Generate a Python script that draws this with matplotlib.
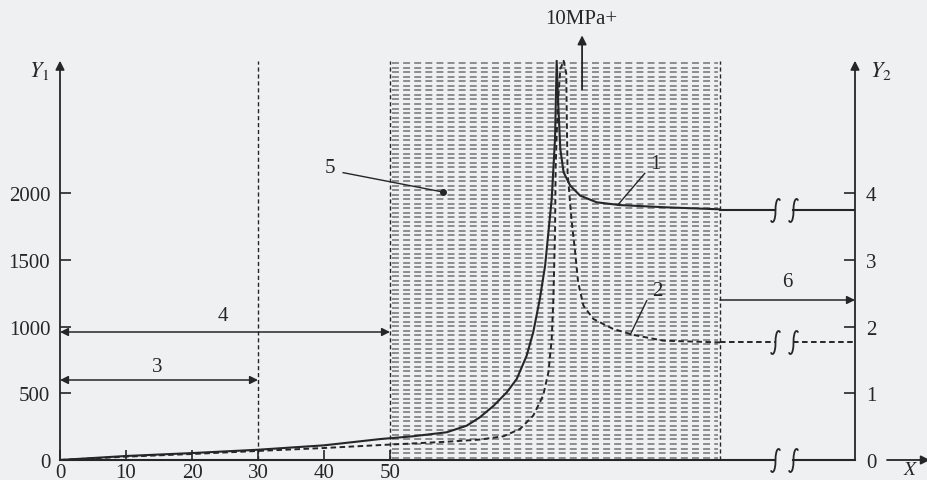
import matplotlib
matplotlib.use('Agg')
import matplotlib.pyplot as plt
import numpy as np
from matplotlib.path import Path
from matplotlib.markers import MarkerStyle

plt.rcParams['font.family'] = ['Liberation Serif', 'DejaVu Serif']
plt.rcParams['mathtext.fontset'] = 'stix'
plt.rcParams['lines.scale_dashes'] = False

BG = '#eef0f2'
INK = '#262626'
HATCH = '#7c7c7c'

# values
x_ticks = [0, 10, 20, 30, 40, 50]
y1_ticks = [0, 500, 1000, 1500, 2000]
y2_ticks = [0, 1, 2, 3, 4]

curve1_x = [0, 10, 20, 30, 40, 48.5, 53.5, 58.6, 61.6, 63.6, 65.7, 67.7, 69.2, 70.7,
            71.7, 72.7, 73.5, 74.0, 74.5, 75.0, 75.25, 75.5, 75.8, 76.3, 77.3, 78.8,
            81.3, 84.8, 91.9, 100]
curve1_y = [0, 30, 52, 77, 110, 157, 178, 208, 257, 320, 407, 508, 608, 782,
            958, 1208, 1458, 1708, 1958, 2408, 2995, 2658, 2333, 2158, 2058, 1983,
            1933, 1912, 1895, 1880]

curve2_x = [0, 10, 20, 30, 40, 48.5, 58.6, 63.6, 67.2, 69.7, 71.7, 73.2, 74.0, 74.5,
            74.75, 75.0, 75.1, 75.4, 75.8, 76.3, 76.7, 76.8, 76.9, 77.5, 78.0, 78.5,
            79.3, 80.8, 83.8, 86.9, 91.4, 100]
curve2_y = [0, 25, 45, 68, 90, 112, 137, 153, 178, 233, 333, 483, 658, 908,
            1208, 1708, 2200, 2650, 2930, 2995, 2900, 2500, 2160, 1800, 1583, 1333,
            1158, 1058, 983, 938, 895, 882]

plateau1_y2 = 3.75   # curve 1 read on Y2
plateau2_y2 = 1.77   # curve 2 read on Y2

zone3 = (0, 30)
zone4 = (0, 50)
zone5 = (50, 100)
zone6 = (100, 120.45)

fig = plt.figure(figsize=(9.28, 4.81), dpi=100)
fig.patch.set_facecolor(BG)
ax = fig.add_axes([60 / 928, 20 / 481, 795 / 928, 400 / 481])
ax.set_facecolor('none')
ax.set_xlim(0, 120.45)
ax.set_ylim(0, 3000)
for s in ax.spines.values():
    s.set_visible(False)

ax2 = ax.twinx()
ax2.set_ylim(0, 6)
for s in ax2.spines.values():
    s.set_visible(False)

# zone 5 hatching: rows of short dashes
rows = np.arange(18, 3000, 34)
ax.hlines(rows, zone5[0] + 0.3, zone5[1] - 0.3, colors=HATCH, lw=1.2,
          linestyles=[(0, (5, 3))])
ax.vlines([zone5[0], zone5[1]], 0, 2990, colors=INK, lw=1.0,
          linestyles=[(0, (3, 2))])
ax.vlines(zone3[1], 0, 2990, colors=INK, lw=1.0, linestyles=[(0, (3, 2))])

# curves
ax.plot(curve1_x, curve1_y, color=INK, lw=1.5, solid_joinstyle='round')
ax.plot(curve2_x, curve2_y, color=INK, lw=1.4, ls=(0, (4, 2.5)))

# broken plateaus and x axis
brk = [108.3, 111.1]
s_path = Path([(0.36, 0.78), (0.3, 1.05), (0.0, 1.0), (0.0, 0.0),
               (0.0, -1.0), (-0.3, -1.05), (-0.36, -0.78)],
              [Path.MOVETO, Path.CURVE4, Path.CURVE4, Path.CURVE4,
               Path.CURVE4, Path.CURVE4, Path.CURVE4])
smark = MarkerStyle(s_path)

ax2.plot([zone5[1], brk[0]], [plateau1_y2] * 2, color=INK, lw=1.5)
ax2.plot([brk[1], zone6[1]], [plateau1_y2] * 2, color=INK, lw=1.5)
ax2.plot([zone5[1], brk[0]], [plateau2_y2] * 2, color=INK, lw=1.4, ls=(0, (4, 2.5)))
ax2.plot([brk[1], zone6[1]], [plateau2_y2] * 2, color=INK, lw=1.4, ls=(0, (4, 2.5)))
ax.plot([0, brk[0]], [0, 0], color=INK, lw=1.5, clip_on=False)
ax.plot([brk[1], zone6[1]], [0, 0], color=INK, lw=1.5, clip_on=False)
for yy, a in [(plateau1_y2, ax2), (plateau2_y2, ax2), (0, ax)]:
    a.plot(brk, [yy, yy], ls='none', marker=smark, ms=19, mec=INK, mfc='none',
           mew=1.3, clip_on=False)

arrow = dict(arrowstyle='-|>', color=INK, lw=1.3, mutation_scale=13,
             shrinkA=0, shrinkB=0)
dbl = dict(arrowstyle='<|-|>', color=INK, lw=1.1, mutation_scale=12,
           shrinkA=0, shrinkB=0)

# axes with arrows
ax.annotate('', xy=(0, 2995), xytext=(0, 0), arrowprops=arrow, annotation_clip=False)
ax.annotate('', xy=(zone6[1], 2995), xytext=(zone6[1], 0), arrowprops=arrow,
            annotation_clip=False)
ax.annotate('', xy=(131.8, 0), xytext=(125.3, 0), arrowprops=arrow, annotation_clip=False)

ax.set_xticks(x_ticks)
ax.set_xticklabels([str(v) for v in x_ticks])
ax.set_yticks(y1_ticks)
ax.set_yticklabels([str(v) for v in y1_ticks])
ax.tick_params(axis='x', direction='in', length=7, width=1.2, labelsize=15,
               pad=2, colors=INK)
ax.tick_params(axis='y', direction='in', length=8, width=1.2, labelsize=15,
               pad=7, colors=INK)
ax2.set_yticks(y2_ticks)
ax2.set_yticklabels([str(v) for v in y2_ticks])
ax2.tick_params(axis='y', direction='in', length=8, width=1.2, labelsize=15,
                pad=8, colors=INK)

ax.text(-3.2, 2925, '$Y_1$', fontsize=16, ha='center', va='center', color=INK)
ax.text(124.3, 2925, '$Y_2$', fontsize=16, ha='center', va='center', color=INK)
ax.text(128.9, -68, '$X$', fontsize=14, ha='center', va='center', color=INK,
        clip_on=False)

# 10MPa+ mark
ax.annotate('', xy=(79.1, 3185), xytext=(79.1, 2780), arrowprops=arrow,
            annotation_clip=False)
ax.text(79.0, 3310, '10MPa+', fontsize=15, ha='center', va='center', color=INK)

# zone arrows
ax.annotate('', xy=(zone3[1], 600), xytext=(zone3[0], 600), arrowprops=dbl)
ax.text(14.7, 700, '3', fontsize=15, ha='center', va='center', color=INK)
ax.annotate('', xy=(zone4[1], 960), xytext=(zone4[0], 960), arrowprops=dbl)
ax.text(24.7, 1085, '4', fontsize=15, ha='center', va='center', color=INK)
ax.annotate('', xy=(zone6[1], 1200), xytext=(zone6[0], 1200),
            arrowprops=dict(arrow, lw=1.1, mutation_scale=12), annotation_clip=False)
ax.text(110.2, 1335, '6', fontsize=15, ha='center', va='center', color=INK)

# leaders
ax.plot([42.9, 58.0], [2155, 2010], color=INK, lw=1.0)
ax.plot([58.0], [2010], 'o', color=INK, ms=4)
ax.text(40.9, 2190, '5', fontsize=15, ha='center', va='center', color=INK)
ax.plot([88.6, 84.5], [2150, 1912], color=INK, lw=1.0)
ax.text(90.2, 2225, '1', fontsize=15, ha='center', va='center', color=INK)
ax.plot([88.9, 86.4], [1195, 940], color=INK, lw=1.0)
ax.text(90.5, 1270, '2', fontsize=15, ha='center', va='center', color=INK)

fig.savefig('out.png', dpi=100, facecolor=BG)
